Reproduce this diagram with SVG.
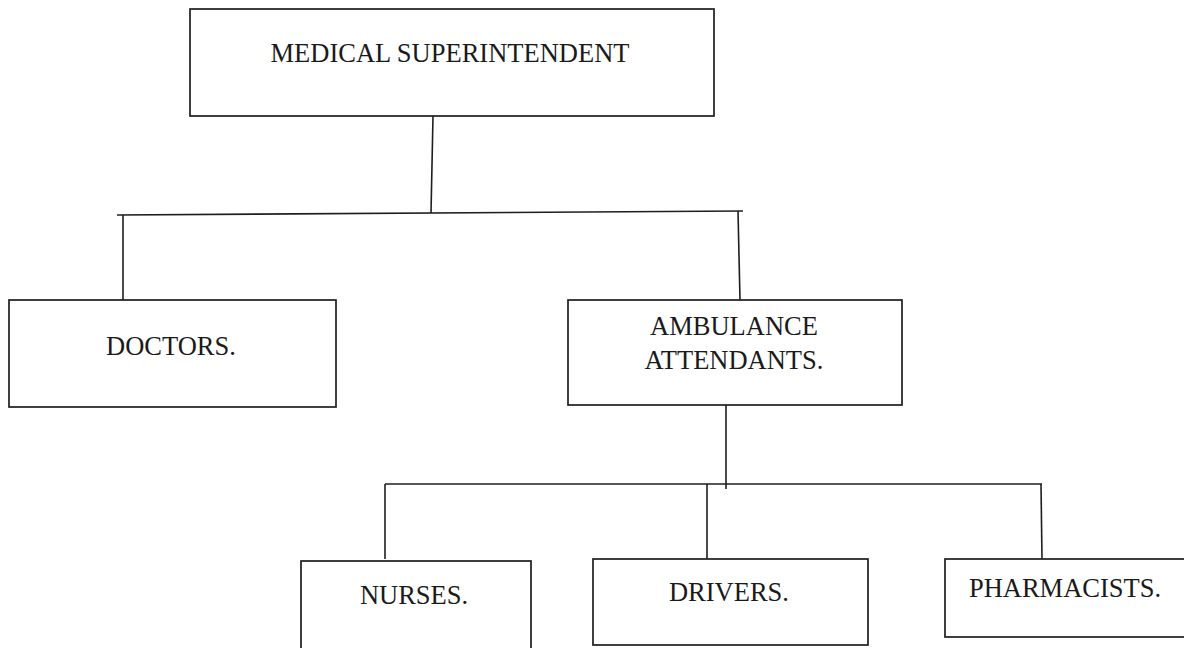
<svg xmlns="http://www.w3.org/2000/svg" width="1184" height="648" viewBox="0 0 1184 648">
  <style>
    .box { fill: #ffffff; stroke: #1e1e1e; stroke-width: 1.7; }
    .lbl { font-family: "Liberation Serif", "Times New Roman", serif; font-size: 26.5px; fill: #1a1a1a; text-anchor: middle; }
    .wire { fill: none; stroke: #1e1e1e; stroke-width: 1.6; }
  </style>
  <rect width="1184" height="648" fill="#ffffff"/>

  <g id="connectors">
    <!-- superintendent down to first bus -->
    <line class="wire" x1="433" y1="116" x2="431" y2="213"/>
    <line class="wire" x1="117" y1="215" x2="743" y2="211"/>
    <line class="wire" x1="123" y1="215" x2="123" y2="302"/>
    <line class="wire" x1="738" y1="211" x2="740" y2="300"/>
    <!-- attendants down to second bus -->
    <line class="wire" x1="726" y1="405" x2="726" y2="489"/>
    <line class="wire" x1="385" y1="484" x2="1042" y2="484"/>
    <line class="wire" x1="385" y1="484" x2="385" y2="559"/>
    <line class="wire" x1="707" y1="484" x2="707" y2="560"/>
    <line class="wire" x1="1041" y1="484" x2="1042" y2="559"/>
  </g>

  <g id="medical-superintendent">
    <rect class="box" x="190" y="9" width="524" height="107"/>
    <text class="lbl" x="450" y="62">MEDICAL SUPERINTENDENT</text>
  </g>

  <g id="doctors">
    <rect class="box" x="9" y="300" width="327" height="107"/>
    <text class="lbl" x="171" y="355">DOCTORS.</text>
  </g>

  <g id="ambulance-attendants">
    <rect class="box" x="568" y="300" width="334" height="105"/>
    <text class="lbl" x="734" y="335">AMBULANCE</text>
    <text class="lbl" x="734" y="369">ATTENDANTS.</text>
  </g>

  <g id="nurses">
    <rect class="box" x="301" y="561" width="230" height="100"/>
    <text class="lbl" x="414" y="604">NURSES.</text>
  </g>

  <g id="drivers">
    <rect class="box" x="593" y="559" width="275" height="86"/>
    <text class="lbl" x="729" y="601">DRIVERS.</text>
  </g>

  <g id="pharmacists">
    <rect class="box" x="945" y="559" width="260" height="78"/>
    <text class="lbl" x="1065" y="597">PHARMACISTS.</text>
  </g>
</svg>
